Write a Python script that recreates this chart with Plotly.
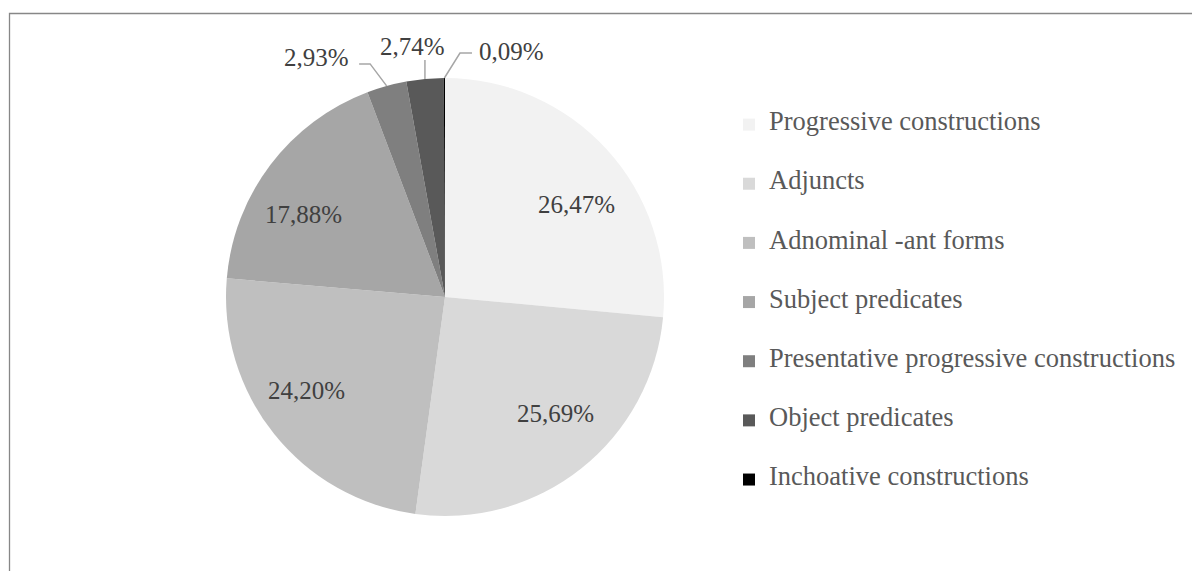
import math
import plotly.graph_objects as go

# ---- data ----
categories = [
    "Progressive constructions",
    "Adjuncts",
    "Adnominal -ant forms",
    "Subject predicates",
    "Presentative progressive constructions",
    "Object predicates",
    "Inchoative constructions",
]
values = [26.47, 25.69, 24.20, 17.88, 2.93, 2.74, 0.09]
colors = ["#F2F2F2", "#D9D9D9", "#BFBFBF", "#A6A6A6", "#7F7F7F", "#595959", "#000000"]

# ---- layout constants (screen pixels) ----
W, H = 1200, 571
OFF = 8                      # page body margin
CX, CY, R = 445, 297, 219    # pie centre / radius on screen
FONT = "Liberation Serif"
SMALL_LIMIT = 5.0
KX, KY, DY_IN = 0.81, 0.655, 4  # inside-label placement


def px(x, y):
    return (x - OFF) / W, 1 - (y - OFF) / H


def fmt(v):
    return f"{v:.2f}".replace(".", ",") + "%"


legend_labels = [
    "\u00a0<br><span style='font-size:26.5px'>" + c + "</span><br>\u00a0" for c in categories
]

cxf, cyf = CX - OFF, CY - OFF
fig = go.Figure(
    go.Pie(
        labels=legend_labels,
        values=values,
        sort=False,
        direction="clockwise",
        rotation=0,
        marker=dict(colors=colors, line=dict(width=0)),
        textinfo="none",
        domain=dict(x=[(cxf - R) / W, (cxf + R) / W], y=[1 - (cyf + R) / H, 1 - (cyf - R) / H]),
        hoverinfo="skip",
    )
)

# outside labels for small slices, with elbow leader lines
leader_pts = {4: [(-16.5, -22), (-27.5, -22)], 5: [(0, -19)], 6: [(15.6, -25), (27.6, -25)]}
label_off = {4: (-35.5, -28, "right"), 5: (-12.6, -32, "center"), 6: (32.6, -27, "left")}
lab_font = dict(family=FONT, size=25, color="#404040")

total = sum(values)
cum = 0.0
annotations = []
shapes = []
for i, v in enumerate(values):
    mid = (cum + v / 2) / total
    cum += v
    th = 2 * math.pi * mid
    s, c = math.sin(th), math.cos(th)
    if v >= SMALL_LIMIT:
        X, Y = px(CX + KX * R * s, CY + DY_IN - KY * R * c)
        annotations.append(dict(x=X, y=Y, xref="paper", yref="paper", text=fmt(v),
                                showarrow=False, xanchor="center", yanchor="middle", font=lab_font))
        continue
    ex, ey = CX + R * s, CY - R * c
    pts = [(ex, ey)] + [(ex + dx, ey + dy) for dx, dy in leader_pts[i]]
    path = ""
    for k, (x, y) in enumerate(pts):
        X, Y = px(x, y)
        path += ("M" if k == 0 else " L") + f"{X:.5f},{Y:.5f}"
    shapes.append(dict(type="path", xref="paper", yref="paper", path=path,
                       line=dict(color="#A6A6A6", width=1.5)))
    ox, oy, anchor = label_off[i]
    X, Y = px(ex + ox, ey + oy)
    annotations.append(dict(x=X, y=Y, xref="paper", yref="paper", text=fmt(v),
                            showarrow=False, xanchor=anchor, yanchor="middle", font=lab_font))

# chart border (top and left visible)
bx, by = px(9.5, 13.5)
shapes.append(dict(type="rect", xref="paper", yref="paper", x0=bx, y0=-0.05, x1=1.05, y1=by,
                   line=dict(color="#878787", width=1.3), fillcolor="rgba(0,0,0,0)", layer="below"))

fig.update_layout(
    width=W,
    height=H,
    margin=dict(l=0, r=0, t=0, b=0),
    paper_bgcolor="white",
    plot_bgcolor="white",
    font=dict(family=FONT, color="#404040"),
    showlegend=True,
    legend=dict(
        x=721 / W, xanchor="left", y=1 - 82 / H, yanchor="top",
        font=dict(family=FONT, size=14.4, color="#595959"),
        bgcolor="rgba(0,0,0,0)", borderwidth=0, traceorder="normal",
    ),
    annotations=annotations,
    shapes=shapes,
)

fig.write_html("out.html")
